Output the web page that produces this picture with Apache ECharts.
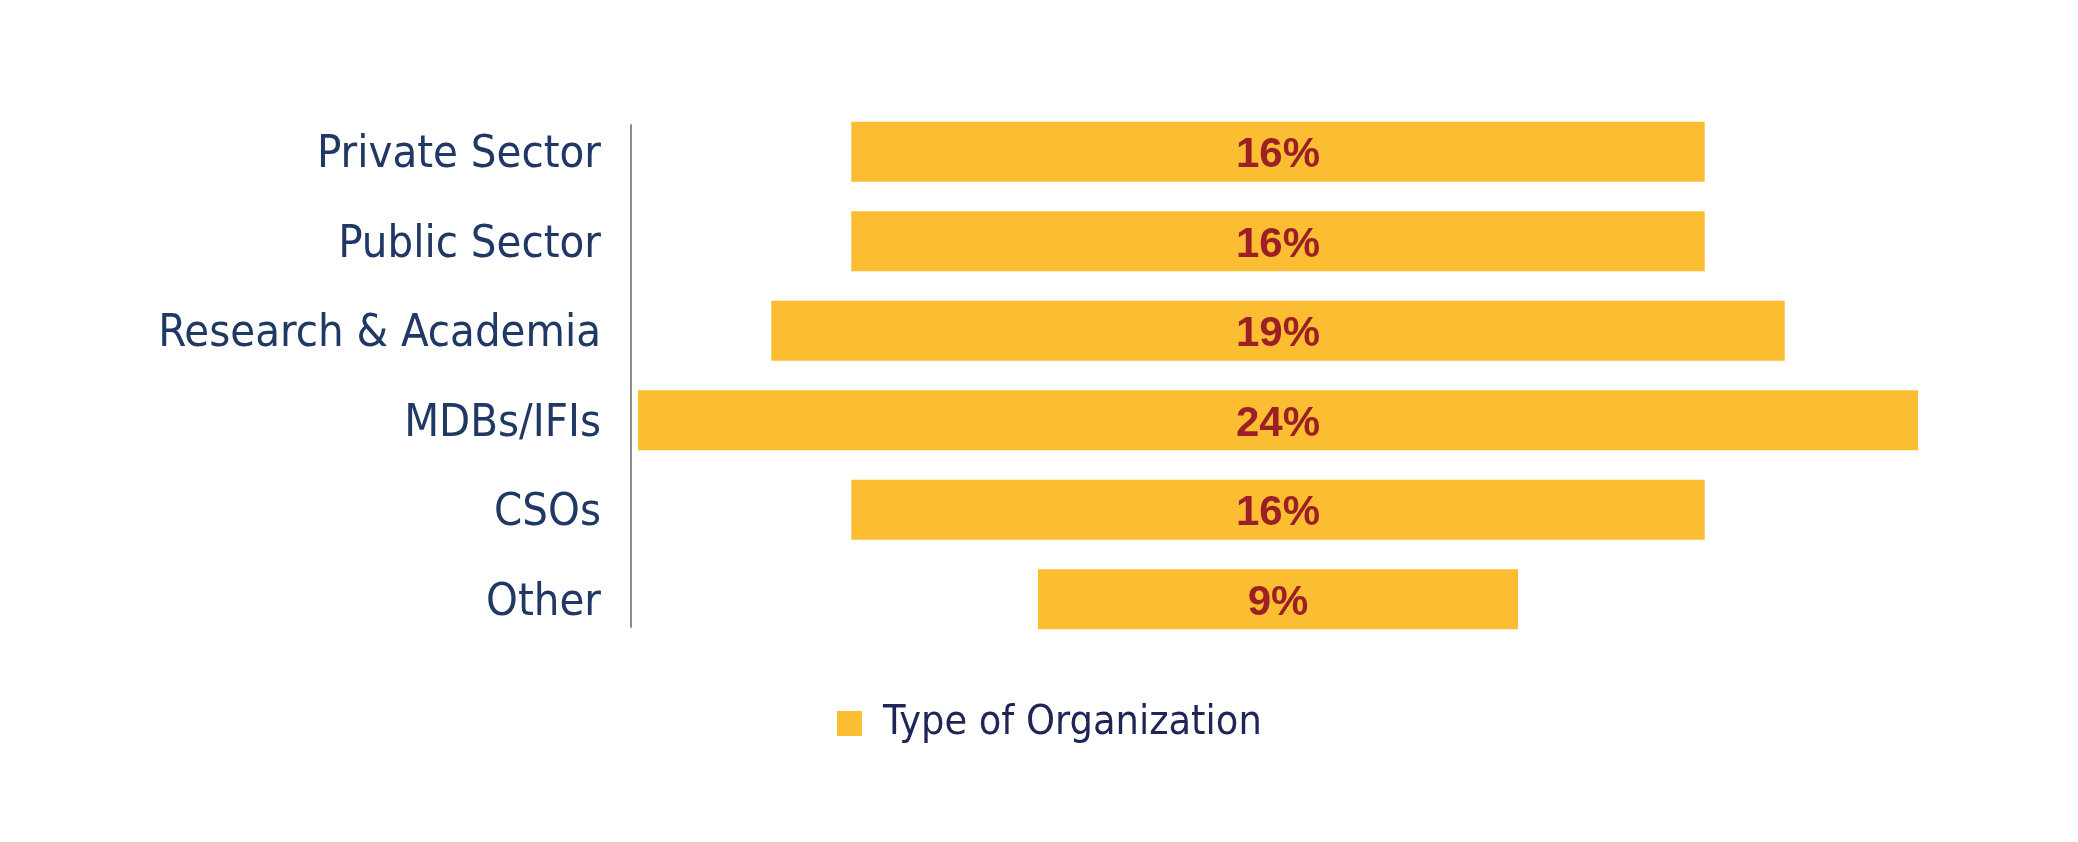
<!DOCTYPE html>
<html>
<head>
<meta charset="utf-8">
<script src="https://cdn.jsdelivr.net/npm/echarts@6/dist/echarts.min.js"></script>
<style>
html,body{margin:0;padding:0;background:#fff;}
#chart{width:2078px;height:842px;}
</style>
</head>
<body>
<div id="chart"></div>
<script>
// Data
const categories = ['Private Sector', 'Public Sector', 'Research & Academia', 'MDBs/IFIs', 'CSOs', 'Other'];
const values = [16, 16, 19, 24, 16, 9];
const seriesName = 'Type of Organization';

// Axis extent (slightly wider than largest bar so bars are centred)
const xMax = 24.26;
const offsets = values.map(v => (xMax - v) / 2);

const FONT = '"DejaVu Sans Condensed", "Liberation Sans Narrow", sans-serif';
const LABEL_FONT = '"Liberation Sans", Arial, sans-serif';

const chart = echarts.init(document.getElementById('chart'));
chart.setOption({
  backgroundColor: '#ffffff',
  animation: false,
  grid: [
    { left: 631, width: 1294, top: 107, height: 537 },
    { left: 631, width: 1294, top: 125, height: 502 }
  ],
  legend: {
    data: [seriesName],
    left: 832,
    top: 698,
    itemWidth: 25,
    itemHeight: 25,
    itemGap: 20,
    icon: 'rect',
    textStyle: { fontFamily: FONT, fontSize: 41, color: '#1F2657', padding: [0, 0, 0, 16] }
  },
  xAxis: [
    { type: 'value', min: 0, max: xMax, show: false, gridIndex: 0 },
    { type: 'value', min: 0, max: 1, show: false, gridIndex: 1 }
  ],
  yAxis: [
    {
      type: 'category',
      data: categories,
      inverse: true,
      gridIndex: 0,
      axisLine: { show: false },
      axisTick: { show: false },
      axisLabel: {
        margin: 30,
        formatter: v => '{c|' + v + '}',
        rich: {
          c: { fontFamily: FONT, fontSize: 45, color: '#203864', padding: [8, 0, 0, 0] }
        }
      }
    },
    {
      type: 'value',
      min: 0, max: 1,
      gridIndex: 1,
      axisLine: { show: true, lineStyle: { color: '#8C8C8C', width: 2 } },
      axisTick: { show: false },
      axisLabel: { show: false },
      splitLine: { show: false }
    }
  ],
  series: [
    {
      name: 'offset',
      type: 'bar',
      stack: 'total',
      data: offsets,
      itemStyle: { color: 'transparent' },
      emphasis: { disabled: true },
      silent: true,
      barWidth: 60
    },
    {
      name: seriesName,
      type: 'bar',
      stack: 'total',
      data: values,
      barWidth: 60,
      itemStyle: { color: '#FBBD31' },
      label: {
        show: true,
        position: 'inside',
        offset: [0, 4],
        formatter: p => p.value + '%',
        fontFamily: LABEL_FONT,
        fontWeight: 'bold',
        fontSize: 42,
        color: '#9B1F24'
      }
    }
  ]
});
</script>
</body>
</html>
